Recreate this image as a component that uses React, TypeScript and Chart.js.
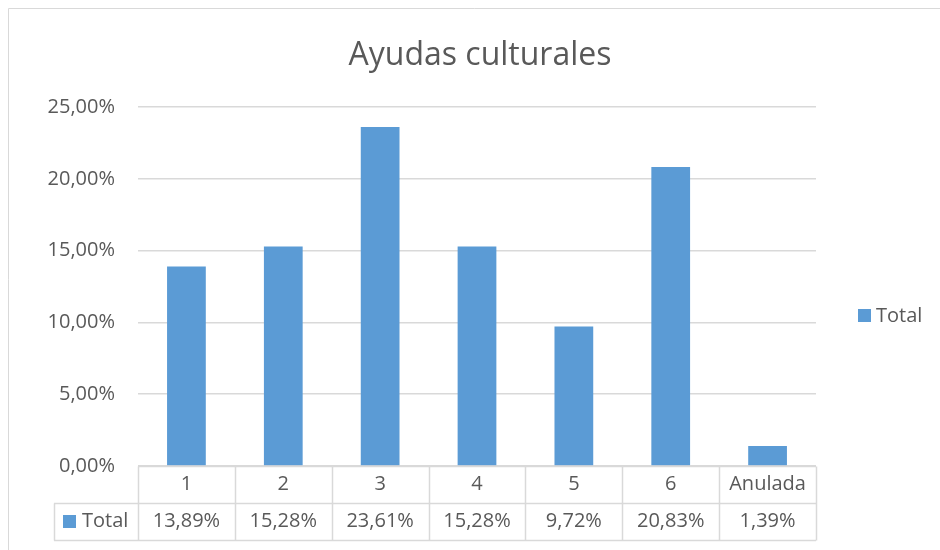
import React, { useEffect, useRef } from "react";
import { Chart, registerables } from "chart.js";

Chart.register(...registerables);

const title = "Ayudas culturales";
const categories = ["1", "2", "3", "4", "5", "6", "Anulada"];
const seriesName = "Total";
const values = [13.89, 15.28, 23.61, 15.28, 9.72, 20.83, 1.39];
const valueLabels = ["13,89%", "15,28%", "23,61%", "15,28%", "9,72%", "20,83%", "1,39%"];
const yTicks = [0, 5, 10, 15, 20, 25];

const BAR = "#5B9BD5";
const TEXT = "#595959";
const LINE = "#D9D9D9";
const FONT = "'Open Sans', sans-serif";

const fmt = (v: number) => v.toFixed(2).replace(".", ",") + "%";

const decorPlugin = {
  id: "decor",
  afterDraw(chart: any) {
    const ctx = chart.ctx as CanvasRenderingContext2D;
    const area = chart.chartArea;
    const xs = chart.scales.x;
    const n = categories.length;
    const cw = (area.right - area.left) / n;
    const row1Top = area.bottom;
    const row1Bot = area.bottom + 37;
    const row2Bot = row1Bot + 37;
    const legendLeft = 46;

    ctx.save();
    // chart border (left & top)
    ctx.strokeStyle = LINE;
    ctx.lineWidth = 1;
    ctx.beginPath();
    ctx.moveTo(0.5, chart.height);
    ctx.lineTo(0.5, 0.5);
    ctx.lineTo(chart.width, 0.5);
    ctx.stroke();

    // title
    ctx.fillStyle = TEXT;
    ctx.font = `32px ${FONT}`;
    ctx.textAlign = "center";
    ctx.textBaseline = "middle";
    ctx.fillText(title, 472, 48);

    // data table lines
    ctx.strokeStyle = LINE;
    ctx.lineWidth = 1.5;
    ctx.beginPath();
    const yA = Math.round(row1Top) + 0.5;
    const yB = Math.round(row1Bot) + 0.5;
    const yC = Math.round(row2Bot) + 0.5;
    ctx.moveTo(area.left, yA);
    ctx.lineTo(area.right, yA);
    ctx.moveTo(legendLeft, yB);
    ctx.lineTo(area.right, yB);
    ctx.moveTo(legendLeft, yC);
    ctx.lineTo(area.right, yC);
    ctx.moveTo(legendLeft + 0.5, yB);
    ctx.lineTo(legendLeft + 0.5, yC);
    for (let i = 0; i <= n; i++) {
      const x = Math.round(area.left + i * cw) + 0.5;
      ctx.moveTo(x, yA);
      ctx.lineTo(x, yC);
    }
    ctx.stroke();

    // table text
    ctx.fillStyle = TEXT;
    ctx.font = `20px ${FONT}`;
    ctx.textAlign = "center";
    ctx.textBaseline = "middle";
    for (let i = 0; i < n; i++) {
      const cx = xs.getPixelForValue(i);
      ctx.fillText(categories[i], cx, (row1Top + row1Bot) / 2);
      ctx.fillText(valueLabels[i], cx, (row1Bot + row2Bot) / 2);
    }
    // legend key in table
    const midRow2 = (row1Bot + row2Bot) / 2;
    ctx.fillStyle = BAR;
    ctx.fillRect(55, midRow2 - 6.5, 13, 13);
    ctx.fillStyle = TEXT;
    ctx.textAlign = "left";
    ctx.fillText(seriesName, 74, midRow2);

    // right legend
    ctx.fillStyle = BAR;
    ctx.fillRect(850, 301, 13, 13);
    ctx.fillStyle = TEXT;
    ctx.fillText(seriesName, 868, 308);
    ctx.restore();
  },
};

export default function App() {
  const ref = useRef<HTMLCanvasElement>(null);
  useEffect(() => {
    if (!ref.current) return;
    const chart = new Chart(ref.current, {
      type: "bar",
      data: {
        labels: categories,
        datasets: [
          {
            label: seriesName,
            data: values,
            backgroundColor: BAR,
            barPercentage: 0.4,
            categoryPercentage: 1,
          },
        ],
      },
      options: {
        responsive: false,
        animation: false,
        layout: { padding: { left: 0, right: 124, top: 99, bottom: 84 } },
        plugins: {
          legend: { display: false },
          title: { display: false },
          tooltip: { enabled: false },
        },
        scales: {
          x: { display: false },
          y: {
            min: 0,
            max: 25,
            afterFit: (s: any) => {
              s.width = 130;
            },
            afterBuildTicks: (s: any) => {
              s.ticks = yTicks.map((v) => ({ value: v }));
            },
            border: { display: false },
            grid: { color: LINE, lineWidth: 1.5, drawTicks: false },
            ticks: {
              padding: 23,
              color: TEXT,
              font: { family: FONT, size: 20 },
              callback: (v: any) => fmt(Number(v)),
            },
          },
        },
      },
      plugins: [decorPlugin],
    });
    return () => chart.destroy();
  }, []);
  return (
    <canvas
      ref={ref}
      width={932}
      height={542}
      style={{ display: "block", position: "fixed", left: 8, top: 8 }}
    />
  );
}
